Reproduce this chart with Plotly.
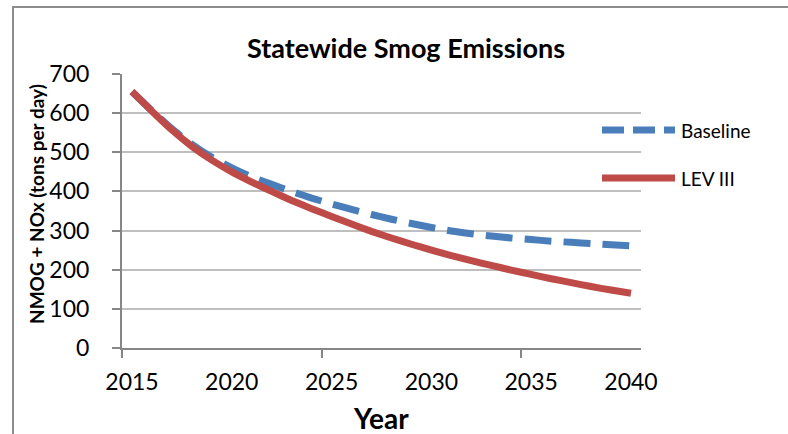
import plotly.graph_objects as go

years = list(range(2015, 2041))
baseline = [655, 606, 560, 520, 487, 460, 437, 418, 400, 383, 368, 354, 341, 329, 318,
            308, 299, 292, 286, 281, 277, 273, 270, 267, 264, 261]
lev3 = [655, 605, 557, 515, 480, 450, 424, 400, 377, 356, 336, 317, 298, 281, 265,
        250, 236, 223, 211, 199, 188, 177, 167, 157, 148, 140]
x_ticks = [2015, 2020, 2025, 2030, 2035, 2040]
y_ticks = [0, 100, 200, 300, 400, 500, 600, 700]
series_names = ["Baseline", "LEV III"]

BLUE = "#4A7EBB"
RED = "#BE4B48"
AXIS = "#868686"
GRID = "#BFBFBF"
FONT = "Lato"

L, R, T, B = 122, 147, 74, 86
W, H = 788, 434
PW, PH = W - L - R, H - T - B


def px(x):
    return (x - L) / PW


def py(y):
    return (H - B - y) / PH


fig = go.Figure()
fig.add_trace(go.Scatter(x=years, y=baseline, mode="lines", name=series_names[0],
                         line=dict(color=BLUE, width=7, dash="27px,12px", shape="spline", smoothing=0.5),
                         showlegend=False))
fig.add_trace(go.Scatter(x=years, y=lev3, mode="lines", name=series_names[1],
                         line=dict(color=RED, width=7, shape="spline", smoothing=0.5),
                         showlegend=False))

fig.update_layout(
    width=W, height=H,
    margin=dict(l=L, r=R, t=T, b=B, pad=0),
    paper_bgcolor="white", plot_bgcolor="white",
    font=dict(family=FONT, color="#000000"),
    xaxis=dict(range=[2014.5, 2040.5], tickmode="array", tickvals=x_ticks,
               ticktext=[str(v) for v in x_ticks], ticks="", showgrid=False,
               showline=True, linecolor=AXIS, linewidth=2, zeroline=False,
               tickfont=dict(size=23, color="#000000"), ticklabelstandoff=12,
               minor=dict(tickmode="array", tickvals=[2014.5, 2024.5, 2034.5],
                          ticks="outside", ticklen=8, tickcolor=AXIS, tickwidth=2,
                          showgrid=False)),
    yaxis=dict(range=[0, 700], tickmode="array", tickvals=y_ticks, ticks="outside",
               ticklen=8, tickcolor=AXIS, tickwidth=2, showgrid=True, gridcolor=GRID,
               gridwidth=1.5, showline=True, linecolor=AXIS, linewidth=2, zeroline=False,
               tickfont=dict(size=23, color="#000000"), ticklabelstandoff=18),
)

shapes = [
    dict(type="rect", xref="paper", yref="paper", x0=px(13), y0=py(H + 50), x1=px(W + 50), y1=py(7),
         line=dict(color="#8C8C8C", width=2), fillcolor="rgba(0,0,0,0)", layer="below"),
    dict(type="line", xref="paper", yref="paper", x0=px(602), x1=px(675), y0=py(130), y1=py(130),
         line=dict(color=BLUE, width=7, dash="22px,9px")),
    dict(type="line", xref="paper", yref="paper", x0=px(602), x1=px(675), y0=py(178), y1=py(178),
         line=dict(color=RED, width=7)),
]
annotations = [
    dict(text="<b>Statewide Smog Emissions</b>", xref="paper", yref="paper", x=px(406), y=py(47),
         xanchor="center", yanchor="middle", showarrow=False, font=dict(size=27, family=FONT)),
    dict(text="<b>NMOG + NOx (tons per day)</b>", xref="paper", yref="paper", x=px(36), y=py(204),
         xanchor="center", yanchor="middle", showarrow=False, textangle=-90,
         font=dict(size=19, family=FONT)),
    dict(text="<b>Year</b>", xref="paper", yref="paper", x=px(381), y=py(418),
         xanchor="center", yanchor="middle", showarrow=False, font=dict(size=28, family=FONT)),
    dict(text=series_names[0], xref="paper", yref="paper", x=px(679), y=py(130),
         xanchor="left", yanchor="middle", showarrow=False, font=dict(size=19, family=FONT)),
    dict(text=series_names[1], xref="paper", yref="paper", x=px(679), y=py(178),
         xanchor="left", yanchor="middle", showarrow=False, font=dict(size=19, family=FONT)),
]
fig.update_layout(shapes=shapes, annotations=annotations)

fig.write_html("out.html", config={"displayModeBar": False},
               post_script="document.body.style.margin='0';document.body.style.overflow='hidden';")
